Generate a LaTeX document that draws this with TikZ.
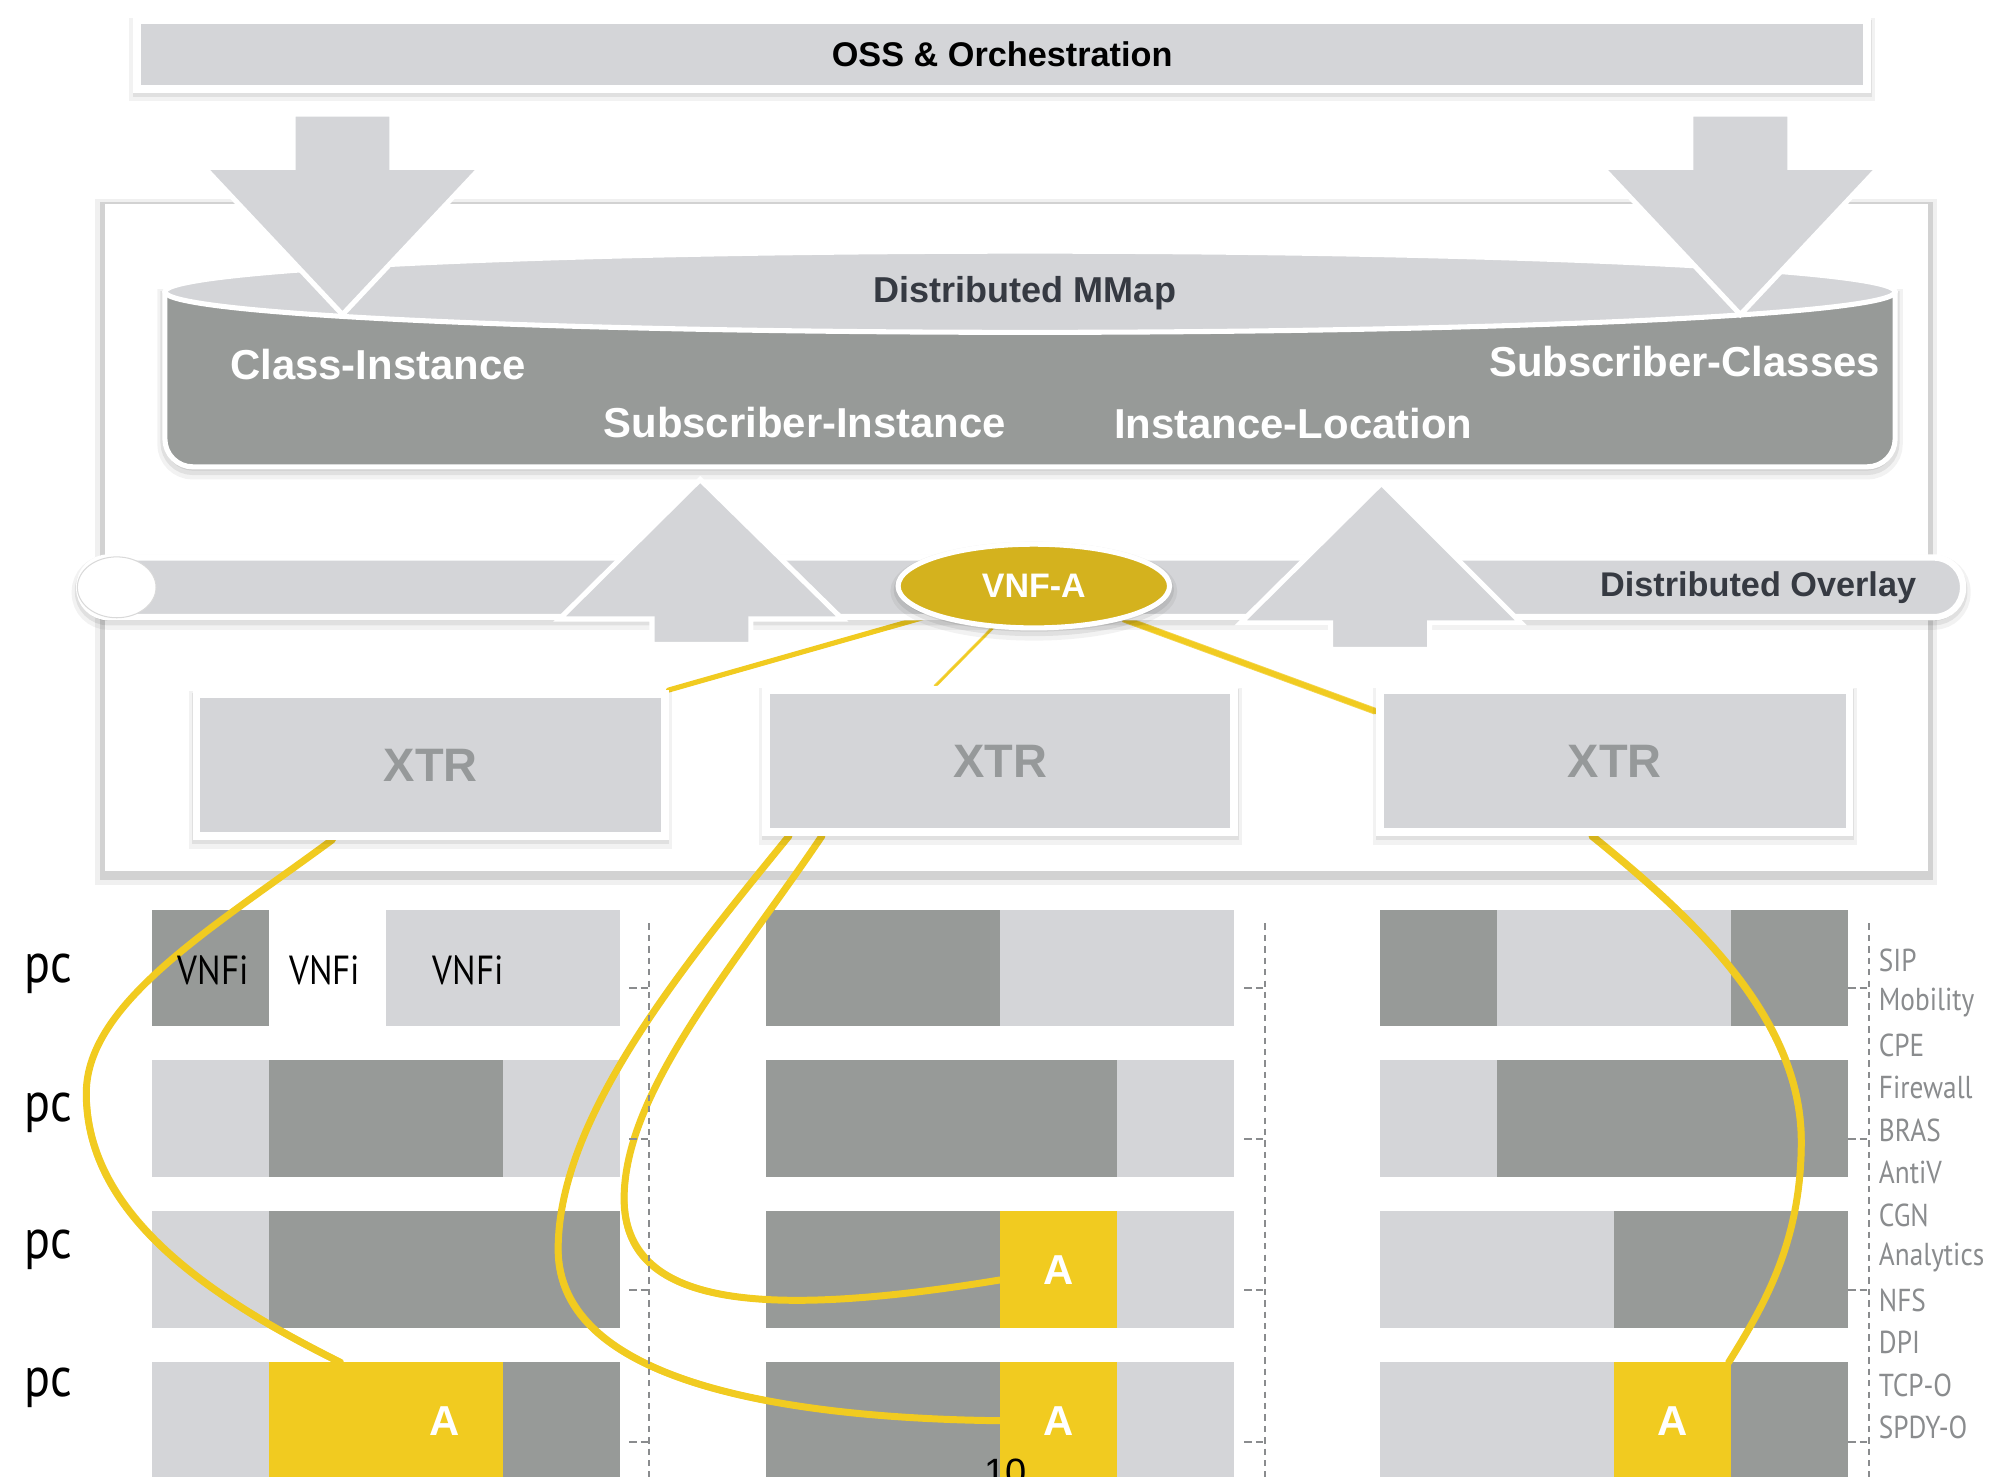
\documentclass[tikz,border=0pt]{standalone}
\usepackage{fontspec}
\setmainfont{Liberation Sans}
\newfontfamily\handfont[FakeStretch=0.86]{PT Sans}
\usetikzlibrary{calc,shapes.geometric}

\pgfdeclarelayer{under}
\pgfdeclarelayer{links}
\pgfsetlayers{under,links,main}

\definecolor{panel}{HTML}{D4D5D8}
\definecolor{slate}{HTML}{979A98}
\definecolor{amber}{HTML}{F1CB20}
\definecolor{gold}{HTML}{D4B21E}
\definecolor{ink}{HTML}{363A42}
\definecolor{xtrtext}{HTML}{96999A}
\definecolor{tag}{HTML}{8A8C8E}

\tikzset{
  softshadow/.style={
    preaction={fill=none,draw=black,draw opacity=0.05,line width=12pt,transform canvas={yshift=-4pt}},
    preaction={fill=black,fill opacity=0.08,draw=black,draw opacity=0.07,line width=7pt,transform canvas={yshift=-3pt}}},
  frameshadow/.style={
    preaction={fill=none,draw=black,draw opacity=0.06,line width=14pt,transform canvas={yshift=-4pt}},
    preaction={fill=none,draw=black,draw opacity=0.12,line width=7pt,transform canvas={yshift=-3pt}}},
  plate/.style={draw=white,line width=6pt,fill=panel,inner sep=0pt,softshadow},
  whitelabel/.style={font=\bfseries\fontsize{33}{33}\selectfont,text=white,inner sep=0pt},
  heading/.style={font=\bfseries\fontsize{27}{27}\selectfont,text=ink,inner sep=0pt},
  bigarrow/.style={fill=panel,draw=white,line width=4pt,line join=miter},
  cell/.style={anchor=north west,inner sep=0pt,outer sep=0pt,minimum height=92pt,draw=none,
    font=\bfseries\fontsize{33}{33}\selectfont,text=white},
  light/.style={cell,fill=panel},
  dark/.style={cell,fill=slate},
  hot/.style={cell,fill=amber},
  tagtext/.style={font=\handfont\fontsize{25}{25}\selectfont,text=tag,anchor=west,inner sep=0pt},
  pctext/.style={font=\handfont\fontsize{44}{44}\selectfont,text=black,inner sep=0pt},
  vnfitext/.style={font=\handfont\fontsize{32}{32}\selectfont,text=black,inner sep=0pt},
  guide/.style={draw=tag,line width=1.6pt,dash pattern=on 5pt off 4pt},
  brush/.style={draw=amber,line width=5.5pt,line cap=round,
    postaction={draw=amber,line width=1.4pt,opacity=0.8,transform canvas={xshift=1.9pt,yshift=1.4pt}},
    postaction={draw=amber,line width=1.2pt,opacity=0.8,transform canvas={xshift=-1.7pt,yshift=-1.6pt}}},
}

\begin{document}
\begin{tikzpicture}[x=1pt,y=-1pt]
\useasboundingbox (0,0) rectangle (1568,1164);

\begin{pgfonlayer}{under}
  \fill[white] (0,0) rectangle (1568,1164);
  % enclosing panel
  \node[draw=gray!35,line width=1pt,fill=white,minimum width=1438pt,minimum height=527pt,
        inner sep=0pt,frameshadow] (frame) at (801,423.5) {};

  % resource bars, column 1
  \node[dark, minimum width=92.25pt]  (c1r1a) at (120,717) {};
  \node[light,minimum width=184.5pt]  (c1r1b) at (304.5,717) {};
  \node[light,minimum width=92.25pt]  (c1r2a) at (120,836) {};
  \node[dark, minimum width=184.5pt]  (c1r2b) at (212.25,836) {};
  \node[light,minimum width=92.25pt]  (c1r2c) at (396.75,836) {};
  \node[light,minimum width=92.25pt]  (c1r3a) at (120,955) {};
  \node[dark, minimum width=276.75pt] (c1r3b) at (212.25,955) {};
  \node[light,minimum width=92.25pt]  (c1r4a) at (120,1074) {};
  \node[hot,  minimum width=184.5pt]  (y14)   at (212.25,1074) {};
  \node[dark, minimum width=92.25pt]  (c1r4c) at (396.75,1074) {};
  % column 2
  \node[dark, minimum width=184.5pt]  (c2r1a) at (604,717) {};
  \node[light,minimum width=184.5pt]  (c2r1b) at (788.5,717) {};
  \node[dark, minimum width=276.75pt] (c2r2a) at (604,836) {};
  \node[light,minimum width=92.25pt]  (c2r2b) at (880.75,836) {};
  \node[dark, minimum width=184.5pt]  (c2r3a) at (604,955) {};
  \node[hot,  minimum width=92.25pt]  (y23)   at (788.5,955) {A};
  \node[light,minimum width=92.25pt]  (c2r3c) at (880.75,955) {};
  \node[dark, minimum width=184.5pt]  (c2r4a) at (604,1074) {};
  \node[hot,  minimum width=92.25pt]  (y24)   at (788.5,1074) {A};
  \node[light,minimum width=92.25pt]  (c2r4c) at (880.75,1074) {};
  % column 3
  \node[dark, minimum width=92.25pt]  (c3r1a) at (1088,717) {};
  \node[light,minimum width=184.5pt]  (c3r1b) at (1180.25,717) {};
  \node[dark, minimum width=92.25pt]  (c3r1c) at (1364.75,717) {};
  \node[light,minimum width=92.25pt]  (c3r2a) at (1088,836) {};
  \node[dark, minimum width=276.75pt] (c3r2b) at (1180.25,836) {};
  \node[light,minimum width=184.5pt]  (c3r3a) at (1088,955) {};
  \node[dark, minimum width=184.5pt]  (c3r3b) at (1272.5,955) {};
  \node[light,minimum width=184.5pt]  (c3r4a) at (1088,1074) {};
  \node[hot,  minimum width=92.25pt]  (y34)   at (1272.5,1074) {A};
  \node[dark, minimum width=92.25pt]  (c3r4c) at (1364.75,1074) {};
\end{pgfonlayer}

% orchestration bar
\node[plate,minimum width=1364pt,minimum height=54pt,
      font=\bfseries\fontsize{27}{27}\selectfont,text=black] (oss) at (790,43) {OSS \& Orchestration};

% distributed map cylinder
\path[fill=slate,softshadow] (130,230) -- (130,346) arc[start angle=180,end angle=90,radius=22]
  -- (1472,368) arc[start angle=90,end angle=0,radius=22] -- (1494,230) -- cycle;
\draw[white,line width=4pt] (130,230) -- (130,346) arc[start angle=180,end angle=90,radius=22]
  -- (1472,368) arc[start angle=90,end angle=0,radius=22] -- (1494,230);
\path[fill=panel,draw=white,line width=4pt] (812,230) ellipse[x radius=682,y radius=32];
\node[heading,font=\bfseries\fontsize{28.4}{28.4}\selectfont] (mmap) at (808,231) {Distributed MMap};
\node[whitelabel] (clsinst) at (298,287) {Class-Instance};
\node[whitelabel] (subinst) at (634.5,333) {Subscriber-Instance};
\node[whitelabel] (instloc) at (1019.5,334) {Instance-Location};
\node[whitelabel] (subcls)  at (1328,285) {Subscriber-Classes};

% provisioning arrows from orchestration
\path[bigarrow] (231,90) -- (309,90) -- (309,132) -- (379,132) -- (270,248) -- (161,132) -- (231,132) -- cycle;
\path[bigarrow] (1333,90) -- (1411,90) -- (1411,132) -- (1481,132) -- (1372,248) -- (1263,132) -- (1333,132) -- cycle;

% distributed overlay tube
\node[draw=white,line width=5pt,fill=panel,rounded corners=23pt,minimum width=1485pt,
      minimum height=47pt,inner sep=0pt,softshadow] (overlay) at (805,463) {};
\path[fill=white,draw=gray!30,line width=0.8pt] (92,463) ellipse[x radius=31,y radius=24];
\node[heading] (overlaytext) at (1386,463) {Distributed Overlay};

% registration arrows into the map
\path[bigarrow] (552,378) -- (664,488) -- (592,488) -- (592,508) -- (514,508) -- (514,488) -- (441,488) -- cycle;
\path[bigarrow] (1089,381) -- (1199,491) -- (1127,491) -- (1127,512) -- (1049,512) -- (1049,491) -- (978,491) -- cycle;

% tunnel routers
\node[plate,minimum width=369pt,minimum height=112pt,
      font=\bfseries\fontsize{37}{37}\selectfont,text=xtrtext] (xtr1) at (339.5,603) {XTR};
\node[plate,minimum width=369pt,minimum height=112pt,
      font=\bfseries\fontsize{37}{37}\selectfont,text=xtrtext] (xtr2) at (788.5,600) {XTR};
\node[plate,minimum width=370pt,minimum height=112pt,
      font=\bfseries\fontsize{37}{37}\selectfont,text=xtrtext] (xtr3) at (1273,600) {XTR};

% virtual function
\node[ellipse,fill=gold,draw=white,line width=4pt,minimum width=214pt,minimum height=66pt,
      inner sep=0pt,softshadow,font=\bfseries\fontsize{26.8}{26.8}\selectfont,text=white] (vnfa) at (815,462) {VNF-A};

% bar labels
\node[vnfitext] (vnfi1) at (168,765) {VNFi};
\node[vnfitext] (vnfi2) at (256,765) {VNFi};
\node[vnfitext] (vnfi3) at (369,765) {VNFi};
\node[cell,anchor=center] (a14) at ($(y14.east)+(-46,0)$) {A};
\node[pctext] (pc1) at (38,768) {pc};
\node[pctext] (pc2) at (38,877) {pc};
\node[pctext] (pc3) at (38,985) {pc};
\node[pctext] (pc4) at (38,1094) {pc};

% dashed scales
\foreach \gx in {512,997,1473} {
  \draw[guide] (\gx,728) -- (\gx,1164);
  \foreach \gy in {779,898,1017,1137}
    \draw[guide,dash pattern=on 6pt off 3pt] (\gx-16,\gy) -- (\gx,\gy);
}
\foreach \t [count=\i from 0] in {SIP,Mobility,CPE,Firewall,BRAS,AntiV,CGN,Analytics,NFS,DPI,TCP-O,SPDY-O}
  \node[tagtext] (tag\i) at (1481,{757+33.5*\i}) {\t};

% page number, running off the lower edge
\begin{scope}
  \clip (0,0) rectangle (1568,1164);
  \node[font=\fontsize{30}{30}\selectfont,inner sep=0pt] (pagenum) at (793,1161) {10};
\end{scope}

% instance links
\begin{pgfonlayer}{links}
  \draw[brush,line width=4pt] (vnfa) -- (xtr1.north east);
  \draw[brush,line width=2.5pt,opacity=0.7] (vnfa) -- ($(xtr2.north west)+(136,0)$);
  \draw[brush,line width=4pt] (vnfa) -- ($(xtr3.north west)+(0,20)$);

  \draw[brush] ($(xtr1.south west)+(110,0)$) .. controls (170,730) and (68,790) .. (68,862)
     .. controls (68,960) and (170,1025) .. ($(y14.north west)+(56,0)$);
  \draw[brush] ($(xtr2.south west)+(21,0)$) .. controls (540,760) and (440,880) .. (440,985)
     .. controls (440,1090) and (620,1118) .. (y24.west);
  \draw[brush] ($(xtr2.south west)+(47,0)$) .. controls (580,760) and (492,860) .. (492,945)
     .. controls (492,1030) and (600,1040) .. ($(y23.west)+(0,8)$);
  \draw[brush] ($(xtr3.south west)+(170,0)$) .. controls (1330,720) and (1420,800) .. (1420,900)
     .. controls (1420,980) and (1390,1030) .. ($(y34.north east)+(-2,0)$);
\end{pgfonlayer}
\end{tikzpicture}
\end{document}
